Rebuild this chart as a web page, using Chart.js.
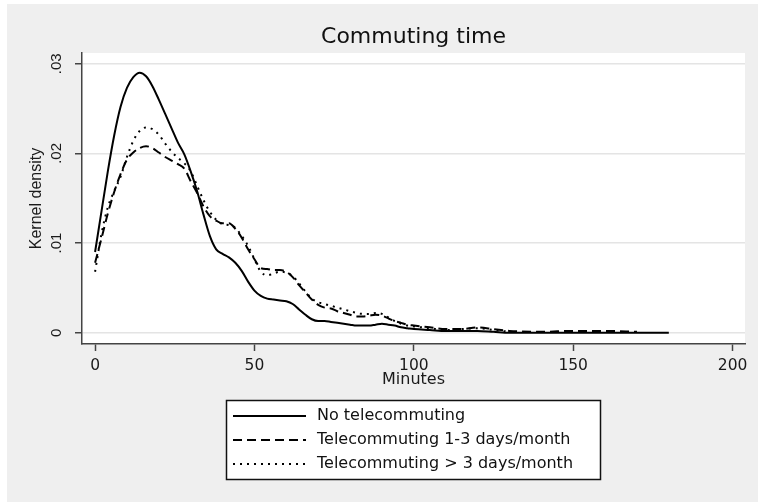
<!DOCTYPE html>
<html>
<head>
<meta charset="utf-8">
<title>Commuting time</title>
<script src="https://cdn.jsdelivr.net/npm/chart.js@4.4.0/dist/chart.umd.min.js"></script>
<style>
  html, body { margin: 0; padding: 0; background: #fff; }
</style>
</head>
<body>
<canvas id="commute" width="758" height="502"></canvas>
<script>
// Kernel density of one-way commuting time, evaluated on a grid of minutes
var minutes = [0, 2, 4, 6, 8, 10, 12, 14, 16, 18, 20, 22, 24, 26, 28, 30, 32, 34, 36, 38,
  40, 42, 44, 46, 48, 50, 52, 54, 56, 58, 60, 62, 64, 66, 68, 70, 72, 74, 76, 78,
  80, 82, 84, 86, 88, 90, 92, 94, 96, 98, 100, 105, 110, 115, 120, 125, 130, 140, 150, 160, 170, 180];

var noTelecommuting = [.0090, .0135, .0180, .0220, .0252, .0273, .0285, .0290, .0286, .0275,
  .0260, .0244, .0228, .0212, .0199, .0180, .0158, .0132, .0108, .0093,
  .0088, .0084, .0078, .0069, .0057, .0047, .0041, .0038, .0037, .0036,
  .0035, .0032, .0026, .0020, .0015, .0013, .0013, .0012, .0011, .0010,
  .0009, .0008, .0008, .0008, .0009, .0010, .0009, .0008, .0006, .0005,
  .0004, .0003, .0002, .0002, .0002, .0001, .0000, .0000, .0000, .0000, .0000, .0000];

var tele1to3 = [.0078, .0105, .0133, .0157, .0177, .0193, .0201, .0206, .0208, .0206,
  .0201, .0196, .0192, .0188, .0183, .0169, .0156, .0141, .0130, .0125,
  .0122, .0122, .0116, .0106, .0093, .0082, .0072, .0071, .0070, .0070,
  .0068, .0062, .0053, .0045, .0037, .0031, .0028, .0027, .0024, .0022,
  .0020, .0018, .0018, .0019, .0020, .0019, .0016, .0013, .0011, .0009,
  .0008, .0006, .0004, .0004, .0006, .0004, .0002, .0001, .0002, .0002, .0001, null];

var teleOver3 = [.0068, .0110, .0140, .0158, .0174, .0196, .0214, .0225, .0229, .0227,
  .0221, .0211, .0202, .0195, .0189, .0180, .0164, .0148, .0135, .0126,
  .0121, .0120, .0117, .0108, .0097, .0082, .0068, .0064, .0066, .0068,
  .0067, .0063, .0055, .0046, .0038, .0034, .0032, .0030, .0028, .0026,
  .0024, .0022, .0021, .0021, .0022, .0021, .0017, .0013, .0010, .0008,
  .0007, .0005, .0003, .0004, .0005, .0003, .0001, null, null, null, null, null];

var xTicks = [0, 50, 100, 150, 200];
var yTicks = [0, 0.01, 0.02, 0.03];
var yTickLabels = ['0', '.01', '.02', '.03'];

function toPoints(values) {
  return minutes.map(function (m, i) { return { x: m, y: values[i] }; });
}

// grey graph region with a white plot area
var backdrop = {
  id: 'backdrop',
  beforeDraw: function (chart) {
    var ctx = chart.ctx, a = chart.chartArea;
    ctx.save();
    ctx.fillStyle = '#ffffff';
    ctx.fillRect(0, 0, chart.width, chart.height);
    ctx.fillStyle = '#efefef';
    ctx.fillRect(7, 4, chart.width - 7, chart.height - 4);
    ctx.fillStyle = '#ffffff';
    ctx.fillRect(a.left, a.top, a.right - a.left, a.bottom - a.top);
    ctx.restore();
  }
};

// boxed legend below the x axis, one row per series
var legendBox = {
  id: 'legendBox',
  afterDraw: function (chart) {
    var ctx = chart.ctx, a = chart.chartArea;
    var w = 375, h = 80, rowH = 24;
    var left = Math.round((a.left + a.right) / 2 - w / 2);
    var top = Math.round(chart.scales.x.bottom + 10);
    ctx.save();
    ctx.fillStyle = '#ffffff';
    ctx.fillRect(left, top, w, h);
    ctx.strokeStyle = '#111';
    ctx.lineWidth = 1.5;
    ctx.strokeRect(left + 0.5, top + 0.5, w - 1, h - 1);
    ctx.font = '16px "DejaVu Sans"';
    ctx.textBaseline = 'middle';
    ctx.fillStyle = '#111';
    chart.data.datasets.forEach(function (ds, i) {
      var y = top + 16 + i * rowH;
      ctx.beginPath();
      ctx.setLineDash(ds.borderDash || []);
      ctx.lineWidth = ds.borderWidth;
      ctx.strokeStyle = ds.borderColor;
      ctx.moveTo(left + 7, y);
      ctx.lineTo(left + 80, y);
      ctx.stroke();
      ctx.setLineDash([]);
      ctx.fillText(ds.label, left + 91, y);
    });
    ctx.restore();
  }
};

var commute = new Chart(document.querySelector('#commute'), {
  type: 'line',
  data: {
    datasets: [
      {
        label: 'No telecommuting',
        data: toPoints(noTelecommuting),
        borderColor: '#000',
        borderWidth: 2,
        borderDash: [],
        fill: false,
        pointRadius: 0,
        cubicInterpolationMode: 'monotone'
      },
      {
        label: 'Telecommuting 1-3 days/month',
        data: toPoints(tele1to3),
        borderColor: '#000',
        borderWidth: 2,
        borderDash: [9, 5],
        fill: false,
        pointRadius: 0,
        cubicInterpolationMode: 'monotone'
      },
      {
        label: 'Telecommuting > 3 days/month',
        data: toPoints(teleOver3),
        borderColor: '#000',
        borderWidth: 2,
        borderDash: [2, 5],
        fill: false,
        pointRadius: 0,
        cubicInterpolationMode: 'monotone'
      }
    ]
  },
  options: {
    responsive: false,
    animation: false,
    devicePixelRatio: 1,
    layout: { padding: { left: 0, right: 13, top: 0, bottom: 112 } },
    plugins: {
      legend: { display: false },
      tooltip: { enabled: false },
      title: {
        display: true,
        text: 'Commuting time',
        fullSize: false,
        color: '#111',
        font: { family: 'DejaVu Sans', size: 22, weight: 'normal' },
        padding: { top: 23.6, bottom: 3 }
      }
    },
    scales: {
      x: {
        type: 'linear',
        min: -4.1,
        max: 203.9,
        afterBuildTicks: function (scale) {
          scale.ticks = xTicks.map(function (v) { return { value: v }; });
        },
        afterFit: function (scale) { scale.height = 46; },
        ticks: {
          color: '#1a1a1a',
          font: { family: 'DejaVu Sans', size: 15.5 },
          padding: 6,
          maxRotation: 0,
          autoSkip: false
        },
        grid: {
          drawOnChartArea: false,
          drawTicks: true,
          tickLength: 7,
          tickColor: '#444',
          tickWidth: 1.5
        },
        border: { display: true, color: '#444', width: 1.5 },
        title: {
          display: true,
          text: 'Minutes',
          color: '#1a1a1a',
          font: { family: 'DejaVu Sans', size: 16 },
          padding: { top: 0, bottom: 1 }
        }
      },
      y: {
        type: 'linear',
        min: -0.00126,
        max: 0.0312,
        afterBuildTicks: function (scale) {
          scale.ticks = yTicks.map(function (v) { return { value: v }; });
        },
        afterFit: function (scale) { scale.width = 82; },
        ticks: {
          color: '#1a1a1a',
          font: { family: 'Liberation Sans', size: 15 },
          padding: 8,
          minRotation: 90,
          maxRotation: 90,
          crossAlign: 'center',
          autoSkip: false,
          callback: function (value, index) { return yTickLabels[index]; }
        },
        grid: {
          color: '#e4e4e4',
          lineWidth: 1.5,
          drawTicks: true,
          tickLength: 7,
          tickColor: '#444',
          tickWidth: 1.5
        },
        border: { display: true, color: '#444', width: 1.5 },
        title: {
          display: true,
          text: 'Kernel density',
          color: '#1a1a1a',
          font: { family: 'Liberation Sans', size: 16 },
          padding: { top: 27.4, bottom: 0 }
        }
      }
    }
  },
  plugins: [backdrop, legendBox]
});
</script>
</body>
</html>
